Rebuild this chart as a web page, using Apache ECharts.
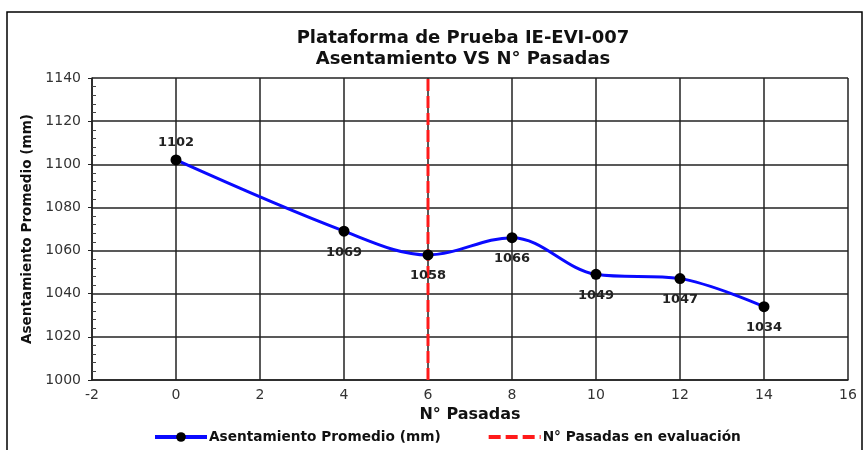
<!DOCTYPE html>
<html><head><meta charset="utf-8">
<script src="https://cdn.jsdelivr.net/npm/echarts@6/dist/echarts.min.js"></script>
<style>html,body{margin:0;padding:0;background:#fff}#c{width:867px;height:450px}</style>
</head><body><div id="c"></div>
<script>
var pasadas = [0, 4, 6, 8, 10, 12, 14];
var asentamiento = [1102, 1069, 1058, 1066, 1049, 1047, 1034];
var evalX = 6;
var yRange = [1000, 1140];
var labelPos = ['top', 'bottom', 'bottom', 'bottom', 'bottom', 'bottom', 'bottom'];
var F = 'DejaVu Sans, sans-serif';

var chart = echarts.init(document.getElementById('c'), null, {renderer: 'canvas'});
chart.setOption({
  animation: false,
  backgroundColor: '#fff',
  graphic: [{type: 'rect', shape: {x: 7, y: 12, width: 855, height: 445}, style: {fill: 'none', stroke: '#000', lineWidth: 1.5}, silent: true}],
  title: {
    text: 'Plataforma de Prueba IE-EVI-007\nAsentamiento VS N° Pasadas',
    left: 458, top: 23, textAlign: 'center',
    textStyle: {fontFamily: F, fontSize: 18, fontWeight: 'bold', color: '#111', lineHeight: 21}
  },
  legend: {
    bottom: 6, left: 153, padding: 0, itemGap: 46, itemWidth: 52, itemHeight: 12,
    textStyle: {fontFamily: F, fontSize: 13.7, fontWeight: 'bold', color: '#111', padding: [0, 0, 0, -3]},
    data: [
      {name: 'Asentamiento Promedio (mm)', lineStyle: {width: 4}},
      {name: 'N° Pasadas en evaluación', itemStyle: {opacity: 0}, lineStyle: {width: 4}}
    ]
  },
  grid: {left: 92, right: 19, top: 78, bottom: 70},
  xAxis: {
    type: 'value', min: -2, max: 16, interval: 2,
    name: 'N° Pasadas', nameLocation: 'middle', nameGap: 25,
    nameTextStyle: {fontFamily: F, fontSize: 16, fontWeight: 'bold', color: '#111'},
    axisLine: {show: true, onZero: false, lineStyle: {color: '#222', width: 1.5}},
    axisTick: {show: false},
    axisLabel: {fontFamily: F, fontSize: 14, color: '#333', margin: 8},
    splitLine: {show: true, lineStyle: {color: '#222', width: 1.5}}
  },
  yAxis: {
    type: 'value', min: yRange[0], max: yRange[1], interval: 20,
    name: 'Asentamiento Promedio (mm)', nameLocation: 'middle', nameGap: 57,
    nameTextStyle: {fontFamily: F, fontSize: 13.6, fontWeight: 'bold', color: '#111'},
    axisLine: {show: true, onZero: false, lineStyle: {color: '#222', width: 1.5}},
    axisTick: {show: true, inside: false, length: 4, lineStyle: {color: '#222'}},
    minorTick: {show: true, splitNumber: 5, length: -4, lineStyle: {color: '#444'}},
    axisLabel: {fontFamily: F, fontSize: 14, color: '#333', margin: 11,
      formatter: function (v) { return String(v); }},
    splitLine: {show: true, lineStyle: {color: '#222', width: 1.5}}
  },
  series: [
    {
      name: 'Asentamiento Promedio (mm)', type: 'line', smooth: 0.35,
      data: pasadas.map(function (x, i) {
        return {value: [x, asentamiento[i]], label: {position: labelPos[i], distance: labelPos[i] === 'top' ? 5 : 9}};
      }),
      symbol: 'circle', symbolSize: 11,
      lineStyle: {color: '#0a0aff', width: 3},
      itemStyle: {color: '#000'},
      label: {show: true, fontFamily: F, fontSize: 13, fontWeight: 'bold', color: '#222',
        formatter: function (p) { return p.value[1]; }},
      z: 5
    },
    {
      name: 'N° Pasadas en evaluación', type: 'line',
      data: [[evalX, yRange[0]], [evalX, yRange[1]]],
      symbol: 'none',
      lineStyle: {color: '#ff1a1a', width: 3, type: [12, 5]},
      itemStyle: {color: '#ff1a1a'},
      z: 4
    }
  ]
});
</script></body></html>
